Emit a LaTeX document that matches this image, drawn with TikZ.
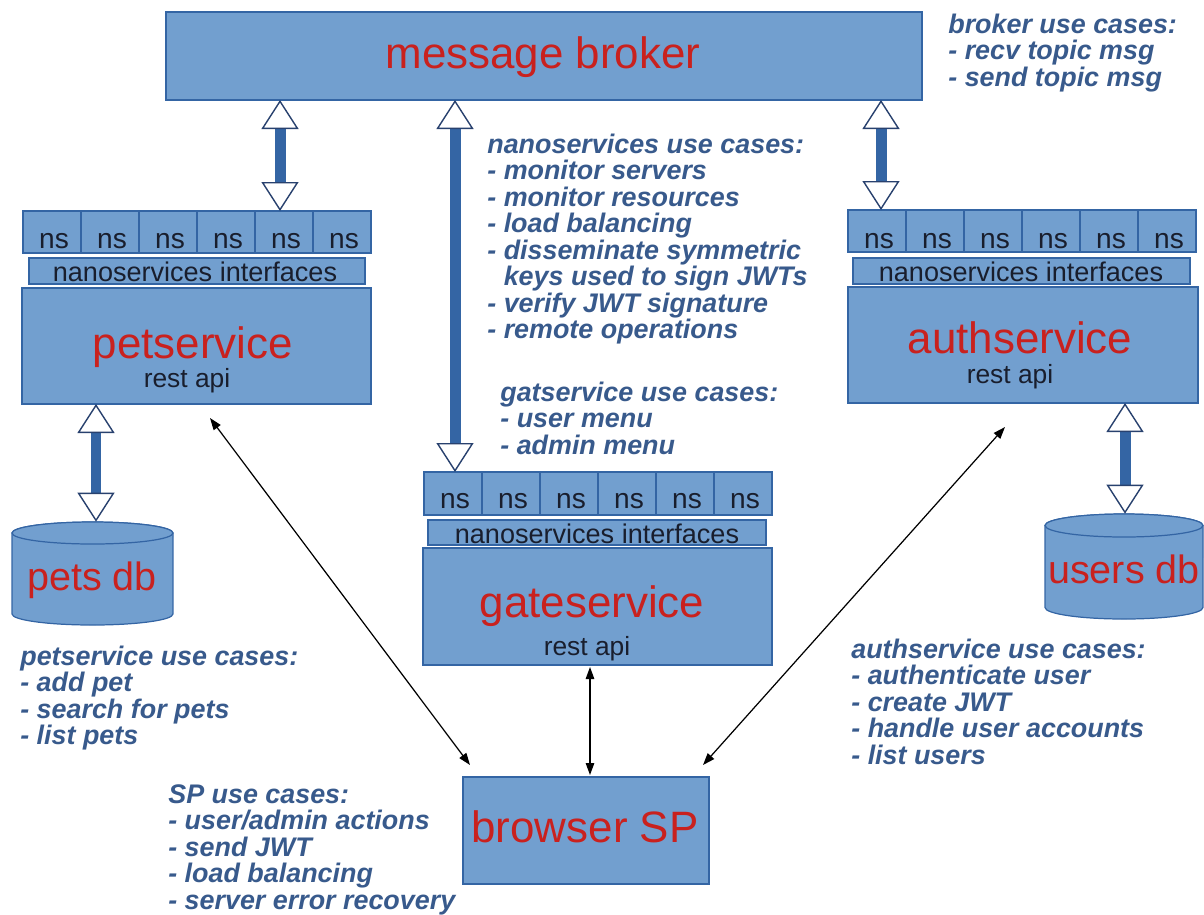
\documentclass[tikz,border=0pt]{standalone}
\usepackage{fontspec}
\setmainfont{Liberation Sans}
\usetikzlibrary{arrows.meta,fit,calc}
\definecolor{boxfill}{HTML}{729FCF}
\definecolor{boxline}{HTML}{3465A4}
\definecolor{titlered}{HTML}{C9211E}
\definecolor{darktext}{RGB}{25,30,45}
\definecolor{ucblue}{RGB}{56,90,140}
\definecolor{shaftc}{HTML}{3465A4}
\definecolor{tipc}{RGB}{40,65,110}
\tikzset{
  box/.style={draw=boxline, fill=boxfill, line width=0.7pt, inner sep=0pt, outer sep=0pt},
  bigred/.style={text=titlered, font=\fontsize{25}{30}\selectfont, anchor=base, inner sep=0pt},
  dbred/.style={text=titlered, font=\fontsize{22.5}{27}\selectfont, anchor=base, inner sep=0pt},
  nstext/.style={text=darktext, font=\fontsize{16}{19}\selectfont, anchor=base, inner sep=0pt},
  iftext/.style={text=darktext, font=\fontsize{15.4}{18}\selectfont, anchor=base, inner sep=0pt},
  apitext/.style={text=darktext, font=\fontsize{15}{18}\selectfont, anchor=base, inner sep=0pt},
  uc/.style={text=ucblue, font=\fontsize{15.3}{18}\selectfont\bfseries\itshape, anchor=base west, inner sep=0pt},
  fathead/.tip={Triangle[length=0.58cm, width=0.74cm, fill=white, color=tipc, line width=0.8pt]},
  fat/.style={line width=0.22cm, draw=shaftc, arrows={fathead-fathead}},
  thinarrow/.style={line width=0.7pt, draw=black, arrows={Triangle[length=0.24cm,width=0.17cm]-Triangle[length=0.24cm,width=0.17cm]}},
  dbbody/.style={draw=boxline, fill=boxfill, line width=0.7pt}
}
\begin{document}
\begin{tikzpicture}[x=0.02cm, y=-0.02cm]
\useasboundingbox (0,0) rectangle (1204,914);

% message broker
\node[box, fit={(166,12) (922,100)}] (broker) {};
\node[bigred] (brokert) at (543,68) {message broker};

% petservice
\foreach \i in {1,...,6} {
  \node[box, fit={({23+58*(\i-1)},211) ({23+58*\i},253)}] (pns\i) {};
  \node[nstext] (pnst\i) at ({54+58*(\i-1)},248) {ns};
}
\node[box, fit={(29,258) (365,284)}] (pif) {};
\node[iftext] (pift) at (195,281) {nanoservices interfaces};
\node[box, fit={(22,288) (371,404)}] (pet) {};
\node[bigred] (pett) at (193,358) {petservice};
\node[apitext] (petapi) at (187,387) {rest api};

% authservice
\foreach \i in {1,...,6} {
  \node[box, fit={({848+58*(\i-1)},210) ({848+58*\i},252)}] (ans\i) {};
  \node[nstext] (anst\i) at ({879+58*(\i-1)},248) {ns};
}
\node[box, fit={(853,258) (1190,284)}] (aif) {};
\node[iftext] (aift) at (1021,281) {nanoservices interfaces};
\node[box, fit={(848,287) (1198,403)}] (auth) {};
\node[bigred] (autht) at (1020,353) {authservice};
\node[apitext] (authapi) at (1010,383) {rest api};

% gateservice
\foreach \i in {1,...,6} {
  \node[box, fit={({424+58*(\i-1)},472) ({424+58*\i},515)}] (gns\i) {};
  \node[nstext] (gnst\i) at ({455+58*(\i-1)},508) {ns};
}
\node[box, fit={(428,520) (766,545)}] (gif) {};
\node[iftext] (gift) at (597,543) {nanoservices interfaces};
\node[box, fit={(423,548) (772,665)}] (gate) {};
\node[bigred] (gatet) at (592,617) {gateservice};
\node[apitext] (gateapi) at (587,655) {rest api};

% browser SP
\node[box, fit={(463,777) (709,884)}] (sp) {};
\node[bigred] (spt) at (585,842) {browser SP};

% pets db cylinder
\path[dbbody] (12,533) -- (12,614) arc[start angle=180, end angle=360, x radius=1.61cm, y radius=0.22cm]
  -- (173,533) arc[start angle=0, end angle=180, x radius=1.61cm, y radius=0.22cm] -- cycle;
\draw[dbbody] (92.5,533) ellipse[x radius=1.61cm, y radius=0.22cm];
\node[fit={(12,522) (173,625)}, inner sep=0pt] (petsdb) {};
\node[dbred] (petsdbt) at (92,590) {pets db};

% users db cylinder
\path[dbbody] (1045,525.5) -- (1045,607.5) arc[start angle=180, end angle=360, x radius=1.58cm, y radius=0.23cm]
  -- (1203,525.5) arc[start angle=0, end angle=180, x radius=1.58cm, y radius=0.23cm] -- cycle;
\draw[dbbody] (1124,525.5) ellipse[x radius=1.58cm, y radius=0.23cm];
\node[fit={(1045,514) (1203,619)}, inner sep=0pt] (usersdb) {};
\node[dbred] (usersdbt) at (1124,583) {users db};

% fat double arrows
\coordinate (fa1b) at ($(pns5.north)+(-4,0)$);
\coordinate (fa1t) at (fa1b |- broker.south);
\draw[fat] (fa1t) -- (fa1b);
\coordinate (fa2b) at ($(gns1.north)+(2,0)$);
\coordinate (fa2t) at (fa2b |- broker.south);
\draw[fat] (fa2t) -- (fa2b);
\coordinate (fa3b) at ($(ans1.north)+(4,0)$);
\coordinate (fa3t) at (fa3b |- broker.south);
\draw[fat] (fa3t) -- (fa3b);
\coordinate (fa4x) at (96,0);
\draw[fat] (fa4x |- pet.south) -- (fa4x |- petsdb.north);
\coordinate (fa5x) at (1125,0);
\draw[fat] (fa5x |- auth.south) -- (fa5x |- usersdb.north);

% thin double arrows
\coordinate (tp1) at (210,418);
\coordinate (tb1) at (470,765);
\coordinate (tg1) at (590,667);
\coordinate (tg2) at (590,775);
\coordinate (ta1) at (1005,427);
\coordinate (tb2) at (703,765);
\draw[thinarrow] (tp1) -- (tb1);
\draw[thinarrow] (tg1) -- (tg2);
\draw[thinarrow] (ta1) -- (tb2);

% use case texts
\foreach \t [count=\k from 0] in {{broker use cases:},{- recv topic msg},{- send topic msg}}
  \node[uc] (ucb\k) at (948,{33+26.5*\k}) {\t};
\foreach \t [count=\k from 0] in {{nanoservices use cases:},{- monitor servers},{- monitor resources},{- load balancing},{- disseminate symmetric},{\phantom{- }keys used to sign JWTs},{- verify JWT signature},{- remote operations}}
  \node[uc] (ucn\k) at (487,{153+26.5*\k}) {\t};
\foreach \t [count=\k from 0] in {{gatservice use cases:},{- user menu},{- admin menu}}
  \node[uc] (ucg\k) at (500,{401+26.5*\k}) {\t};
\foreach \t [count=\k from 0] in {{petservice use cases:},{- add pet},{- search for pets},{- list pets}}
  \node[uc] (ucp\k) at (20,{665+26.5*\k}) {\t};
\foreach \t [count=\k from 0] in {{authservice use cases:},{- authenticate user},{- create JWT},{- handle user accounts},{- list users}}
  \node[uc] (uca\k) at (851,{658+26.5*\k}) {\t};
\foreach \t [count=\k from 0] in {{SP use cases:},{- user/admin actions},{- send JWT},{- load balancing},{- server error recovery}}
  \node[uc] (ucs\k) at (168,{803+26.5*\k}) {\t};
\end{tikzpicture}
\end{document}
